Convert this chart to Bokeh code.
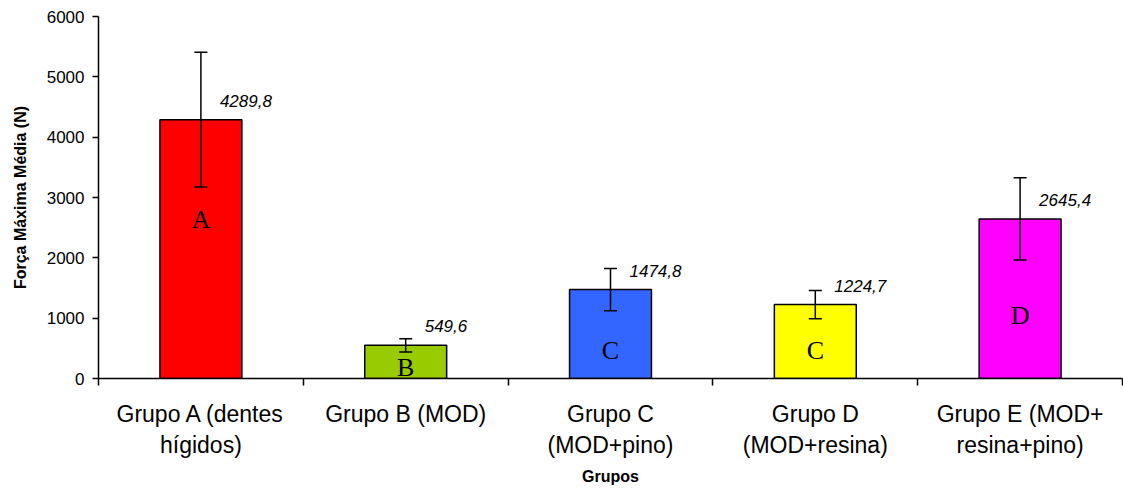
from bokeh.plotting import figure
from bokeh.models import Range1d, FixedTicker, ColumnDataSource, Whisker, TeeHead, LinearAxis
from bokeh.core.properties import value
from bokeh.embed import file_html
from bokeh.resources import INLINE

categories = ["Grupo A (dentes\nhígidos)", "Grupo B (MOD)", "Grupo C\n(MOD+pino)",
              "Grupo D\n(MOD+resina)", "Grupo E (MOD+\nresina+pino)"]
means = [4289.8, 549.6, 1474.8, 1224.7, 2645.4]
errors = [1117, 110, 350, 235, 680]
value_labels = ["4289,8", "549,6", "1474,8", "1224,7", "2645,4"]
colors = ["#FF0000", "#99CC00", "#3366FF", "#FFFF00", "#FF00FF"]
letters = ["A", "B", "C", "C", "D"]
letter_y = [2640, 190, 470, 470, 1050]
y_ticks = [0, 1000, 2000, 3000, 4000, 5000, 6000]

xc = [i + 0.5 for i in range(len(categories))]
src = ColumnDataSource(dict(
    x=xc, top=means, color=colors,
    upper=[m + e for m, e in zip(means, errors)],
    lower=[m - e for m, e in zip(means, errors)],
    vlab=value_labels, let=letters, ly=letter_y,
))

p = figure(width=1123, height=488, output_backend="svg", toolbar_location=None,
           x_range=Range1d(0, 5), y_range=Range1d(0, 6000),
           min_border_left=98, min_border_right=1, min_border_top=16, min_border_bottom=110,
           x_axis_location=None, y_axis_location=None)
p.outline_line_color = None
p.xgrid.visible = False
p.ygrid.visible = False
p.background_fill_color = "white"

p.vbar(x="x", top="top", width=0.4, bottom=0, source=src, fill_color="color",
       line_color="black", line_width=1.5)

p.text(x="x", y="ly", text="let", source=src,
       text_font=value("Liberation Serif"), text_font_size="26px",
       text_align="center", text_baseline="middle", text_color="black")

w = Whisker(base="x", upper="upper", lower="lower", source=src, line_width=1.5,
            line_color="black", level="overlay",
            upper_head=TeeHead(size=13, line_width=1.5, line_color="black"),
            lower_head=TeeHead(size=13, line_width=1.5, line_color="black"))
p.add_layout(w)

p.text(x="x", y="top", text="vlab", source=src, x_offset=19, y_offset=-19,
       text_font=value("Liberation Sans"), text_font_style="italic",
       text_font_size="17px", text_align="left", text_baseline="middle", text_color="black")

yax = LinearAxis(ticker=FixedTicker(ticks=y_ticks), axis_label="Força Máxima Média (N)")
yax.axis_line_width = 1.5
yax.major_tick_out = 6
yax.major_tick_in = 0
yax.major_tick_line_width = 1.5
yax.minor_tick_line_color = None
yax.major_label_text_font = "Liberation Sans"
yax.major_label_text_font_size = "17px"
yax.major_label_text_color = "black"
yax.major_label_standoff = 8
yax.axis_label_text_font = "Liberation Sans"
yax.axis_label_text_font_style = "bold"
yax.axis_label_text_font_size = "16px"
yax.axis_label_text_color = "black"
yax.axis_label_standoff = 15
p.add_layout(yax, "left")

xax = LinearAxis(ticker=FixedTicker(ticks=xc, minor_ticks=[0, 1, 2, 3, 4, 5]), axis_label="Grupos")
xax.major_label_overrides = {t: c for t, c in zip(xc, categories)}
xax.axis_line_width = 1.5
xax.major_tick_line_color = None
xax.major_tick_out = 0
xax.major_tick_in = 0
xax.minor_tick_out = 7
xax.minor_tick_in = 0
xax.minor_tick_line_width = 1.5
xax.minor_tick_line_color = "black"
xax.major_label_text_font = "Liberation Sans"
xax.major_label_text_font_size = "23px"
xax.major_label_text_color = "black"
xax.major_label_standoff = 15
xax.axis_label_text_font = "Liberation Sans"
xax.axis_label_text_font_style = "bold"
xax.axis_label_text_font_size = "16px"
xax.axis_label_text_color = "black"
xax.axis_label_standoff = 7
p.add_layout(xax, "below")

open("out.html", "w").write(file_html(p, INLINE))
